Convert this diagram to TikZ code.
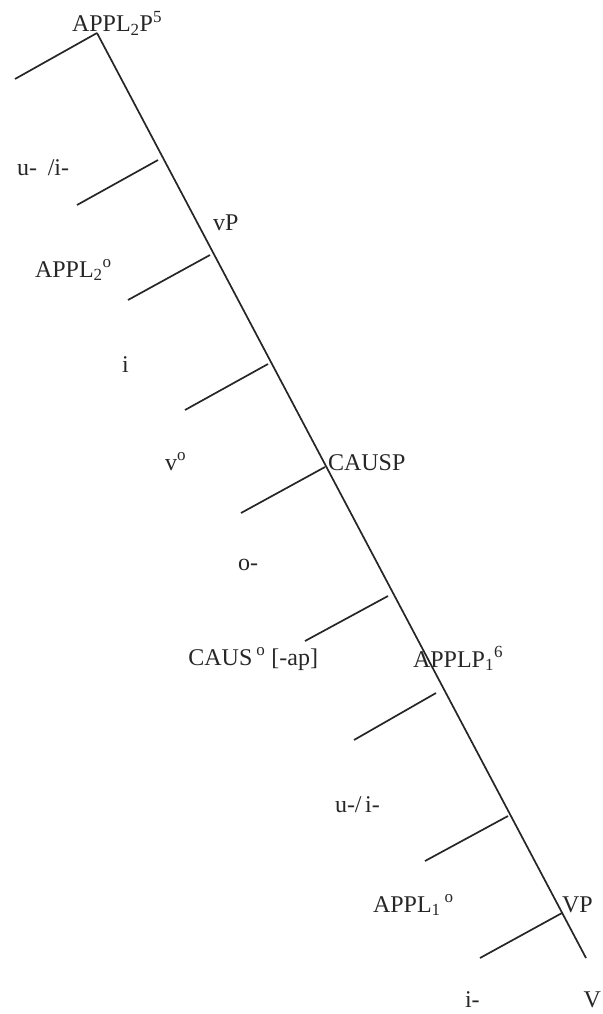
\documentclass[tikz,border=0pt]{standalone}
\usepackage{fontspec}
\setmainfont{Liberation Serif}
\newcommand{\mysub}[1]{\textsubscript{\fontsize{17}{17}\selectfont #1}}
\newcommand{\mysup}[1]{\textsuperscript{\fontsize{17}{17}\selectfont #1}}
\begin{document}
\begin{tikzpicture}[x=1pt,y=-1pt,
  branch/.style={line width=1.7pt,draw=black!85},
  lbl/.style={anchor=base west,inner sep=0pt,outer sep=0pt,text=black!85,font=\fontsize{24}{28}\selectfont}]
\useasboundingbox (0,0) rectangle (602,1014);
% spine
\coordinate (top) at (97,33);
\coordinate (bottom) at (586,958);
\draw[branch] (top) -- (bottom);
% attachment points and branch ends
\coordinate (a0) at (97,33);   \coordinate (e0) at (15,79);
\coordinate (a1) at (158,160); \coordinate (e1) at (77,205);
\coordinate (a2) at (210,255); \coordinate (e2) at (128,300);
\coordinate (a3) at (268,364); \coordinate (e3) at (185,410);
\coordinate (a4) at (325,467); \coordinate (e4) at (241,513);
\coordinate (a5) at (388,596); \coordinate (e5) at (305,641);
\coordinate (a6) at (436,693); \coordinate (e6) at (354,740);
\coordinate (a7) at (508,816); \coordinate (e7) at (425,861);
\coordinate (a8) at (562,913); \coordinate (e8) at (480,958);
\foreach \i in {0,...,8} { \draw[branch] (a\i) -- (e\i); }
% labels
\node[lbl] (applTwoP) at (72,32) {APPL\mysub{2}P\mysup{5}};
\node[lbl] (ui1) at (17,175) {u-\hspace{0.45em}/i-};
\node[lbl] (vP) at (213,230) {vP};
\node[lbl] (applTwo) at (35,277) {APPL\mysub{2}\mysup{o}};
\node[lbl] (iA) at (122,372) {i};
\node[lbl] (vo) at (165,470) {v\mysup{o}};
\node[lbl] (causP) at (328,470) {CAUSP};
\node[lbl] (oDash) at (238,570) {o-};
\node[lbl, anchor=base east] (caus) at (318,665) {CAUS\,\mysup{o} [-ap]};
\node[lbl] (applP1) at (413,667) {APPLP\mysub{1}\mysup{6}};
\node[lbl] (ui2) at (335,812) {u-/\hspace{0.15em}i-};
\node[lbl] (applOne) at (373,912) {APPL\mysub{1}\,\mysup{o}};
\node[lbl] (VP) at (562,912) {VP};
\node[lbl] (iDash) at (465,1007) {i-};
\node[lbl, anchor=base east] (V) at (601,1007) {V};
\end{tikzpicture}
\end{document}
